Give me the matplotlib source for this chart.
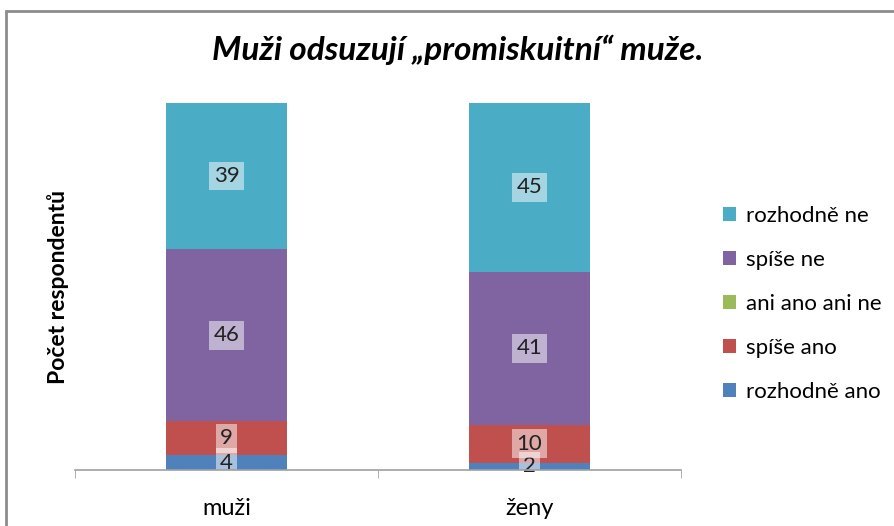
import matplotlib.pyplot as plt
from matplotlib.patches import Rectangle

plt.rcParams['font.family'] = ['Lato', 'DejaVu Sans']

categories = ['muži', 'ženy']
series = ['rozhodně ano', 'spíše ano', 'ani ano ani ne', 'spíše ne', 'rozhodně ne']
values = {
    'rozhodně ano': [4, 2],
    'spíše ano': [9, 10],
    'ani ano ani ne': [0, 0],
    'spíše ne': [46, 41],
    'rozhodně ne': [39, 45],
}
colors = ['#4F81BD', '#C0504D', '#9BBB59', '#8064A2', '#4BACC6']

W, H = 894, 526
fig = plt.figure(figsize=(W / 100, H / 100), dpi=100)
ax = fig.add_axes([75 / W, (H - 470) / H, (681 - 75) / W, (470 - 103) / H])

x = range(len(categories))
bottom = [0, 0]
for name, col in zip(series, colors):
    vals = values[name]
    ax.bar(x, vals, width=0.4, bottom=bottom, color=col, label=name, zorder=2)
    for i, v in enumerate(vals):
        if v > 0:
            ax.text(i, bottom[i] + v / 2, str(v), ha='center', va='center',
                    fontsize=16, color='#222222', zorder=3,
                    bbox=dict(boxstyle='square,pad=0.2', fc='white', ec='none', alpha=0.5))
    bottom = [b + v for b, v in zip(bottom, vals)]

ax.set_xlim(-0.5, 1.5)
ax.set_ylim(0, 98)
ax.set_yticks([])
ax.set_xticks(list(x))
ax.set_xticklabels(categories, fontsize=17)
ax.tick_params(axis='x', length=0, pad=20)
ax.set_xticks([-0.5, 0.5, 1.5], minor=True)
ax.tick_params(axis='x', which='minor', length=6, color='#a0a0a0', direction='out')
for s in ['left', 'top', 'right']:
    ax.spines[s].set_visible(False)
ax.spines['bottom'].set_color('#a0a0a0')
ax.spines['bottom'].set_linewidth(1.2)
ax.spines['bottom'].set_zorder(4)

ax.set_ylabel('Počet respondentů', fontsize=16.5, fontweight='bold', labelpad=4)

fig.text(458 / W, 1 - 50 / H, 'Muži odsuzují „promiskuitní“ muže.', ha='center', va='center',
         fontsize=24, fontweight='bold', fontstyle='italic')

h, l = ax.get_legend_handles_labels()
leg = fig.legend(h[::-1], l[::-1], loc='center left', bbox_to_anchor=(703 / W, 1 - 304 / H),
                 frameon=False, fontsize=16, handlelength=0.6, handleheight=0.6,
                 handletextpad=0.45, labelspacing=1.08)

fig.patches.append(Rectangle((6 / W, -0.1), 1.2, 1 - 11 / H + 0.1, transform=fig.transFigure,
                             fill=False, ec='#8c8c8c', lw=2))

fig.savefig('out.png', dpi=100)
